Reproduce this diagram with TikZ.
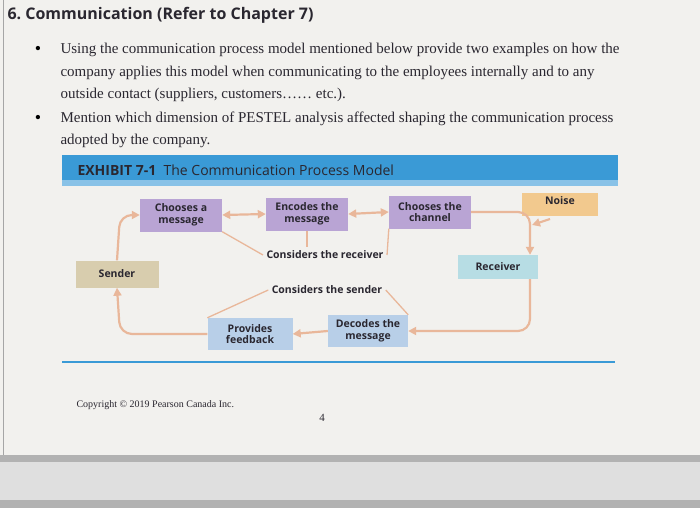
\documentclass[tikz,border=0pt]{standalone}
\usepackage{fontspec}
\setmainfont{Liberation Serif}
\setsansfont{Open Sans}
\usetikzlibrary{arrows.meta}
\definecolor{paper}{HTML}{F2F1EE}
\definecolor{bar}{HTML}{3A9AD6}
\definecolor{purp}{HTML}{B9A4D4}
\definecolor{noisec}{HTML}{F2C98E}
\definecolor{recc}{HTML}{B7DDE4}
\definecolor{sendc}{HTML}{D8CDAE}
\definecolor{lblue}{HTML}{B8CFE8}
\definecolor{arr}{HTML}{E9B79A}
\definecolor{txt}{HTML}{2A2730}
\tikzset{
  box/.style={minimum width=82pt,minimum height=33pt,inner sep=1pt,align=center,font=\sffamily\bfseries\fontsize{10.5}{11.5}\selectfont,text=txt},
  conn/.style={draw=arr,line width=2.2pt,rounded corners=12pt},
  tip/.style={-{Triangle[length=8pt,width=8pt]}},
  thin/.style={draw=arr,line width=1.3pt},
  lbl/.style={font=\sffamily\bfseries\fontsize{10.5}{11.5}\selectfont,text=txt},
  body/.style={font=\fontsize{15}{17}\selectfont,anchor=west,text=txt}
}
\begin{document}
\begin{tikzpicture}[x=1pt,y=-1pt]
\fill[paper] (0,0) rectangle (700,508);
\useasboundingbox (0,0) rectangle (700,508);
\fill[gray!60] (0,455) rectangle (700,508);
\fill[gray!25] (0,462) rectangle (700,500);
\draw[gray!70,line width=1pt] (3,0) -- (3,455);
% heading
\node[anchor=west,font=\sffamily\bfseries\fontsize{16}{18}\selectfont,text=txt] (head) at (4,15) {6.\ Communication (Refer to Chapter 7)};
\node[font=\fontsize{18}{18}\selectfont] (b1) at (38,50) {\textbullet};
\node[body] (t1) at (57,50) {Using the communication process model mentioned below provide two examples on how the};
\node[body] (t2) at (57,73) {company applies this model when communicating to the employees internally and to any};
\node[body] (t3) at (57,95) {outside contact (suppliers, customers\ldots\ldots\ etc.).};
\node[font=\fontsize{18}{18}\selectfont] (b2) at (38,119) {\textbullet};
\node[body] (t4) at (57,119) {Mention which dimension of PESTEL analysis affected shaping the communication process};
\node[body] (t5) at (57,141) {adopted by the company.};
% title bar
\fill[bar] (62,155) rectangle (618,186);
\fill[bar!60!white] (62,180) rectangle (618,186);
\node[anchor=west,font=\sffamily\fontsize{14}{16}\selectfont,text=txt] (title) at (74,170) {\textbf{EXHIBIT 7-1}\ \ The Communication Process Model};
% nodes
\node[box,fill=purp] (cm) at (181,215) {Chooses a\\message};
\node[box,fill=purp] (em) at (307,214) {Encodes the\\message};
\node[box,fill=purp] (cc) at (430,212) {Chooses the\\channel};
\node[box,fill=noisec,minimum width=76pt,minimum height=23pt,anchor=north,text depth=8pt] (noise) at (560,193) {Noise};
\node[box,fill=recc,minimum width=80pt,minimum height=24pt] (rec) at (498,267) {Receiver};
\node[box,fill=sendc,minimum width=83pt,minimum height=27pt] (snd) at (117,274) {Sender};
\node[box,fill=lblue,minimum width=85pt,minimum height=32pt] (pf) at (250,334) {Provides\\feedback};
\node[box,fill=lblue,minimum width=80pt,minimum height=32pt] (dm) at (368,331) {Decodes the\\message};
\node[lbl] (cr) at (325,255) {Considers the receiver};
\node[lbl] (cs) at (327,290) {Considers the sender};
% connectors
\draw[conn,tip] (snd.north) -- (120,215) -- (cm.west);
\draw[conn,{Triangle[length=8pt,width=8pt]}-{Triangle[length=8pt,width=8pt]}] (cm.east) -- (em.west);
\draw[conn,{Triangle[length=8pt,width=8pt]}-{Triangle[length=8pt,width=8pt]}] (em.east) -- (cc.west);
\draw[conn,tip] (cc.east) -- (530,212) -- (rec.north -| 530,0);
\coordinate (np) at (532,225);
\coordinate (ns) at (550,219);
\draw[conn,tip] (ns) -- (np);
\draw[conn,tip] (rec.south -| 530,0) -- (530,331) -- (dm.east);
\draw[conn,tip] (dm.west) -- (pf.east);
\draw[conn,tip] (pf.west) -- (120,334) -- (snd.south);
\draw[thin] (cm.south east) -- (cr.west);
\draw[thin] (em.south) -- (cr.north -| em.south);
\draw[thin] (cc.south west) -- (cr.east);
\draw[thin] (cs.west) -- (pf.north west);
\draw[thin] (cs.east) -- (dm.north east);
% bottom line
\draw[bar,line width=2pt] (62,362) -- (615,362);
\node[anchor=west,font=\fontsize{10}{12}\selectfont,text=txt] (copy) at (73,405) {Copyright \textcopyright\ 2019 Pearson Canada Inc.};
\node[font=\fontsize{11}{12}\selectfont,text=txt] (pg) at (322,418) {4};
\end{tikzpicture}
\end{document}
